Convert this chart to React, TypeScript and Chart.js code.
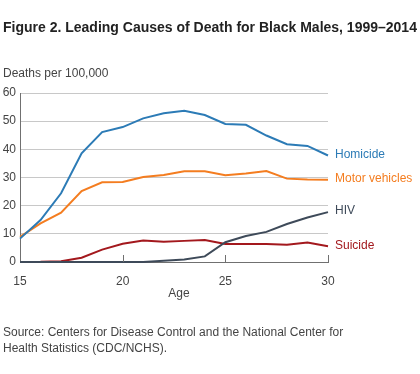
import React, { useEffect, useRef } from "react";
import { Chart, registerables } from "chart.js";

Chart.register(...registerables);

const ages = [15, 16, 17, 18, 19, 20, 21, 22, 23, 24, 25, 26, 27, 28, 29, 30];
const homicide = [8.3, 14.9, 24.4, 38.6, 46.1, 47.9, 51.0, 52.8, 53.7, 52.2, 49.0, 48.7, 44.9, 41.8, 41.2, 37.8];
const motorVehicles = [8.9, 13.7, 17.5, 25.2, 28.3, 28.4, 30.2, 30.9, 32.2, 32.2, 30.8, 31.4, 32.3, 29.6, 29.3, 29.2];
const hiv = [0, 0, 0, 0, 0, 0, 0, 0.4, 0.9, 2.0, 7.0, 9.2, 10.7, 13.5, 15.8, 17.7];
const suicide = [null, 0.1, 0.3, 1.5, 4.4, 6.5, 7.6, 7.2, 7.5, 7.8, 6.4, 6.4, 6.4, 6.1, 6.9, 5.6];

const seriesNames = ["Homicide", "Motor vehicles", "HIV", "Suicide"];
const seriesColors = ["#2c7bb6", "#f47d20", "#3e4a59", "#a3181d"];
const seriesValues = [homicide, motorVehicles, hiv, suicide];
const yTicks = [0, 10, 20, 30, 40, 50, 60];
const xTicks = [15, 20, 25, 30];

const FONT = "'Liberation Sans', Arial, sans-serif";

export default function App() {
  const ref = useRef<HTMLCanvasElement | null>(null);

  useEffect(() => {
    if (!ref.current) return;
    const endLabels = {
      id: "endLabels",
      afterDatasetsDraw(chart: any) {
        const ctx = chart.ctx;
        ctx.save();
        ctx.font = `12px ${FONT}`;
        ctx.textBaseline = "middle";
        ctx.textAlign = "left";
        chart.data.datasets.forEach((ds: any, i: number) => {
          const meta = chart.getDatasetMeta(i);
          const pt = meta.data[meta.data.length - 1];
          ctx.fillStyle = ds.borderColor;
          ctx.fillText(ds.label, pt.x + 7, pt.y - 1);
        });
        // inward tick marks on x axis
        const xs = chart.scales.x;
        const bottom = chart.chartArea.bottom;
        ctx.strokeStyle = "#707070";
        ctx.lineWidth = 1;
        xTicks.slice(1).forEach((v) => {
          const px = Math.round(xs.getPixelForValue(v)) + 0.5;
          ctx.beginPath();
          ctx.moveTo(px, bottom);
          ctx.lineTo(px, bottom - 7);
          ctx.stroke();
        });
        // x axis title
        ctx.fillStyle = "#444";
        ctx.textAlign = "center";
        ctx.fillText("Age", 179, 294);
        ctx.restore();
      },
    };

    const chart = new Chart(ref.current, {
      type: "line",
      data: {
        datasets: seriesNames.map((name, i) => ({
          label: name,
          data: ages.map((a, j) => ({ x: a, y: seriesValues[i][j] })),
          borderColor: seriesColors[i],
          backgroundColor: seriesColors[i],
          borderWidth: 2,
          pointRadius: 0,
          tension: 0,
          clip: 6,
          spanGaps: false,
        })),
      },
      options: {
        animation: false,
        responsive: false,
        maintainAspectRatio: false,
        layout: { padding: { top: 93, bottom: 72, left: 0, right: 92 } },
        plugins: { legend: { display: false }, tooltip: { enabled: false }, title: { display: false } },
        scales: {
          x: {
            type: "linear",
            min: 15,
            max: 30,
            afterFit: (s: any) => {
              s.height = 40;
            },
            afterBuildTicks: (s: any) => {
              s.ticks = xTicks.map((v) => ({ value: v }));
            },
            grid: { display: true, drawOnChartArea: false, drawTicks: false },
            border: { display: true, color: "#707070", width: 1 },
            ticks: { padding: 12, color: "#444", font: { family: FONT, size: 12 }, maxRotation: 0 },
          },
          y: {
            min: 0,
            max: 60,
            afterFit: (s: any) => {
              s.width = 20;
            },
            afterBuildTicks: (s: any) => {
              s.ticks = yTicks.map((v) => ({ value: v }));
            },
            grid: { color: "#c8c8c8", lineWidth: 1, drawTicks: false },
            border: { display: true, color: "#707070", width: 1 },
            ticks: { padding: 4, color: "#444", font: { family: FONT, size: 12 } },
          },
        },
      },
      plugins: [endLabels],
    });
    return () => chart.destroy();
  }, []);

  const textStyle: React.CSSProperties = {
    position: "absolute",
    fontFamily: FONT,
    color: "#444",
    fontSize: 12,
    whiteSpace: "nowrap",
    margin: 0,
  };

  return (
    <div style={{ position: "absolute", left: 0, top: 0, width: 420, height: 374, background: "#fff", overflow: "hidden" }}>
      <canvas ref={ref} width={420} height={374} style={{ position: "absolute", left: 0, top: 0, width: 420, height: 374 }} />
      <div style={{ ...textStyle, left: 3, top: 19, fontSize: 14, fontWeight: "bold", color: "#222", lineHeight: "16px" }}>
        Figure 2. Leading Causes of Death for Black Males, 1999–2014
      </div>
      <div style={{ ...textStyle, left: 3, top: 66, lineHeight: "14px" }}>Deaths per 100,000</div>
      <div style={{ ...textStyle, left: 3, top: 325, lineHeight: "15.5px" }}>
        Source: Centers for Disease Control and the National Center for
        <br />
        Health Statistics (CDC/NCHS).
      </div>
    </div>
  );
}
